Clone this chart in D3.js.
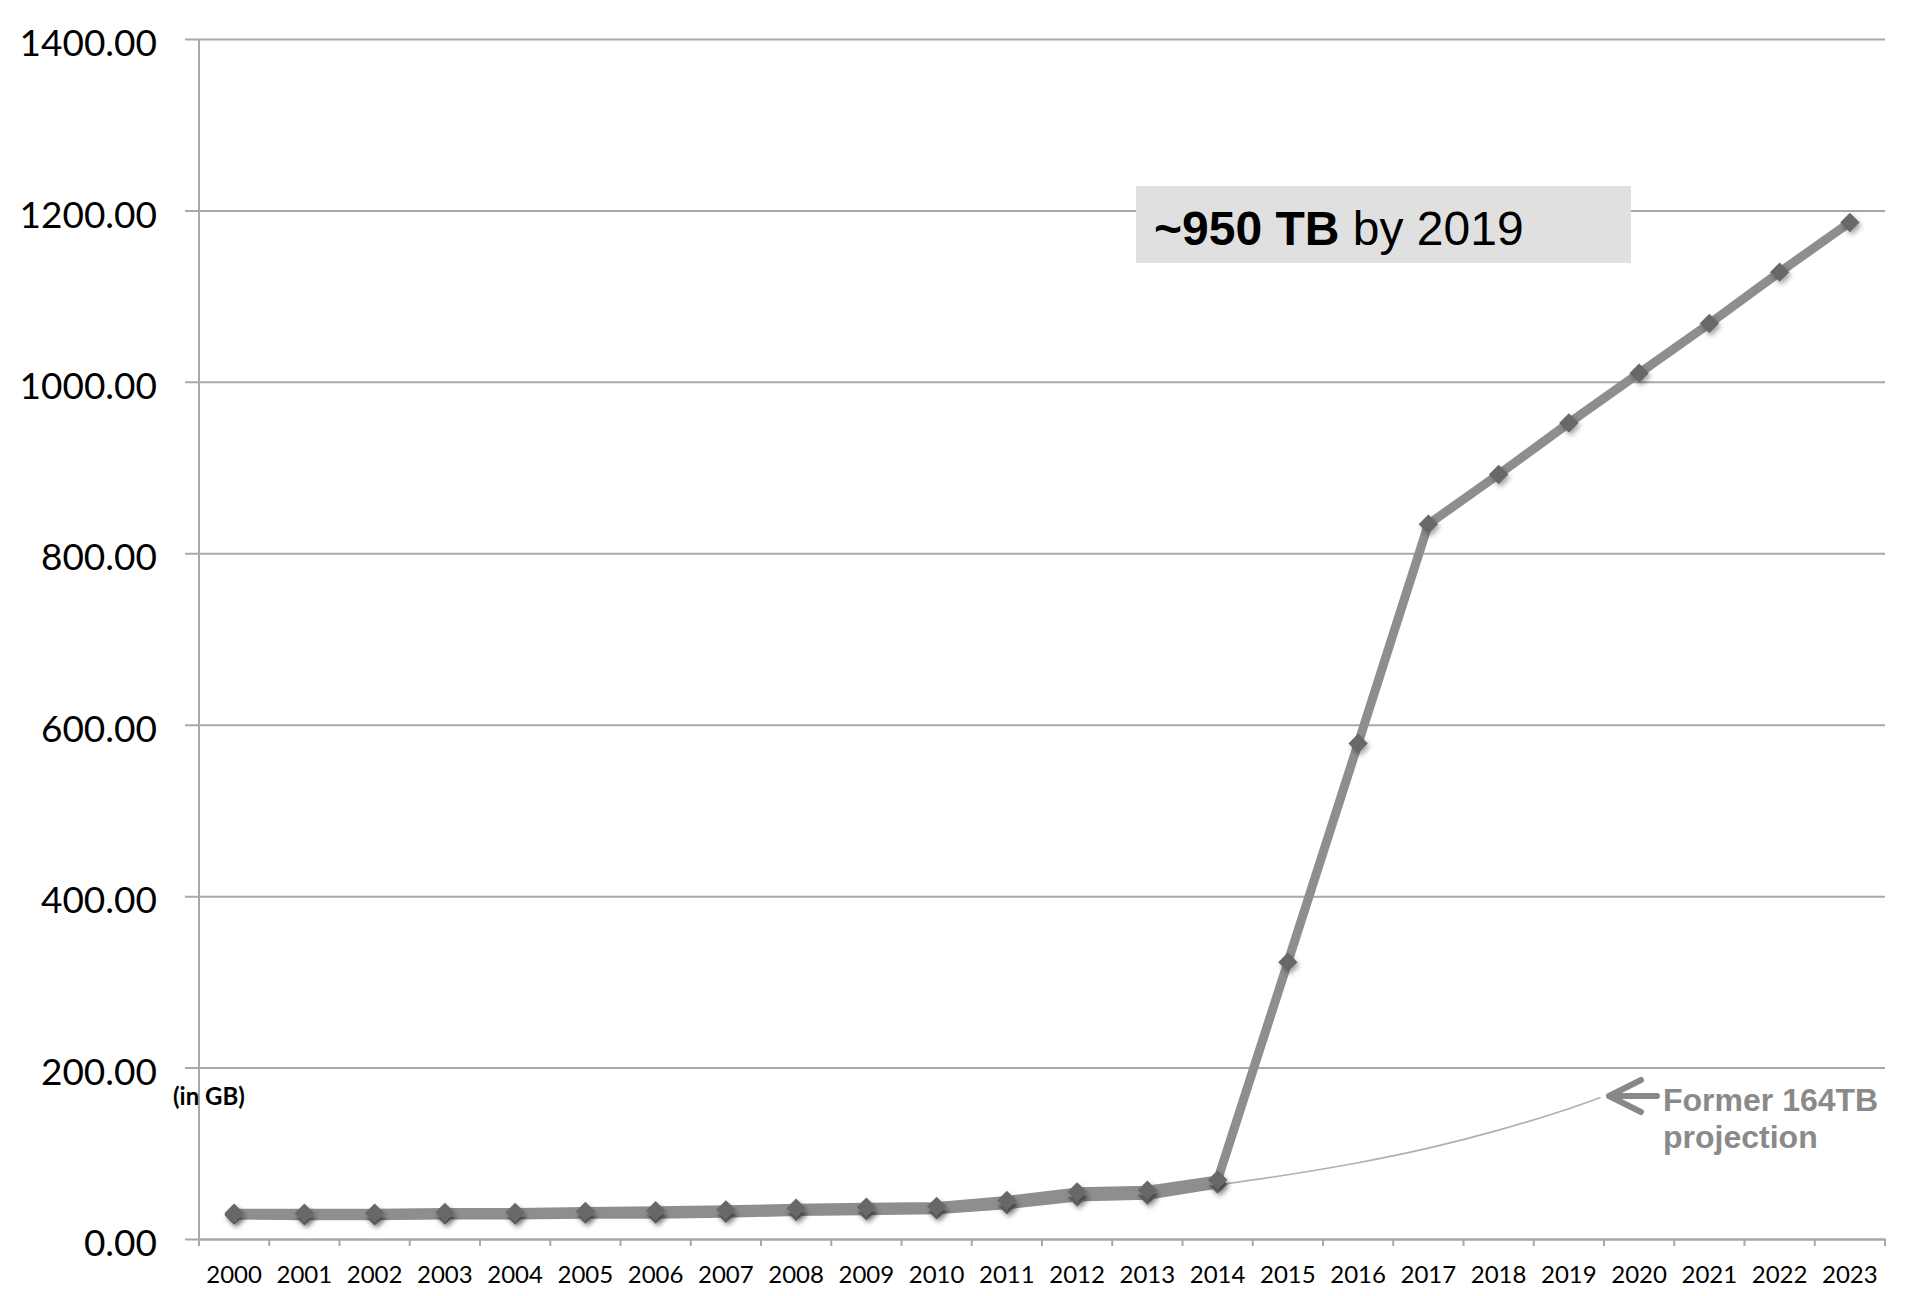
<!DOCTYPE html>
<html>
<head>
<meta charset="utf-8">
<script src="https://cdn.jsdelivr.net/npm/d3@7"></script>
<style>
  body { margin: 0; background: #fff; }
  text { font-family: Lato, "Open Sans", sans-serif; }
</style>
</head>
<body>
<div id="chart"></div>
<script>
// years on the x axis
var years = [2000, 2001, 2002, 2003, 2004, 2005, 2006, 2007, 2008, 2009, 2010, 2011,
             2012, 2013, 2014, 2015, 2016, 2017, 2018, 2019, 2020, 2021, 2022, 2023];

// new projection (in GB)
var projected = [30, 30, 30, 31, 31, 32, 33, 34, 36, 37, 38, 45,
                 55, 57, 69, 323, 578, 834, 892, 952, 1010, 1068, 1128, 1186];

// older series that sits just under the new one
var oldYears = [2000, 2001, 2002, 2003, 2004, 2005, 2006, 2007, 2008, 2009, 2010, 2011, 2012, 2013, 2014];
var oldValues = [28, 27, 27, 28, 28, 29, 29, 30, 32, 33, 34, 40, 49, 51, 64];

// the former projection curve (trendline, forecast a little past 2019)
var trendYears = [2000, 2002, 2004, 2006, 2008, 2010, 2011, 2012, 2013, 2014, 2015, 2016, 2017, 2018, 2019, 2019.45];
var trendValues = [27, 27.5, 28.5, 30, 32, 35, 40, 46, 52, 63, 75, 89, 106, 127, 152, 165];

var yTicks = [0, 200, 400, 600, 800, 1000, 1200, 1400];

var width = 1917, height = 1296;
var margin = { top: 39, right: 32, bottom: 57, left: 199 };

var svg = d3.select("#chart").append("svg")
    .attr("width", width)
    .attr("height", height);

var defs = svg.append("defs");
defs.append("filter")
    .attr("id", "shadow")
    .attr("x", "-50%").attr("y", "-50%")
    .attr("width", "200%").attr("height", "200%")
  .append("feDropShadow")
    .attr("dx", 2)
    .attr("dy", 3)
    .attr("stdDeviation", 2.5)
    .attr("flood-color", "#000")
    .attr("flood-opacity", 0.35);

var x = d3.scaleBand()
    .domain(years)
    .range([margin.left, width - margin.right]);

// continuous version of x for points (year -> band center)
var xc = d3.scaleLinear()
    .domain([years[0], years[years.length - 1]])
    .range([x(years[0]) + x.bandwidth() / 2, x(years[years.length - 1]) + x.bandwidth() / 2]);

var y = d3.scaleLinear()
    .domain([0, 1400])
    .range([height - margin.bottom, margin.top]);

// gridlines + y labels
var gy = svg.append("g")
    .attr("transform", "translate(" + margin.left + ",0)")
    .call(d3.axisLeft(y)
      .tickValues(yTicks)
      .tickSize(14)
      .tickFormat(d3.format(".2f")));
gy.select(".domain").remove();
gy.selectAll(".tick line")
    .attr("x2", width - margin.right - margin.left)
    .attr("x1", -14)
    .attr("stroke", "#a8a8a8")
    .attr("stroke-width", 2);
gy.selectAll(".tick text")
    .attr("x", -42)
    .attr("dy", "0.45em")
    .attr("fill", "#000")
    .attr("font-size", "37px")
    .style("font-family", "Lato, sans-serif");

// y axis line
svg.append("line")
    .attr("x1", margin.left).attr("x2", margin.left)
    .attr("y1", y(1400)).attr("y2", y(0))
    .attr("stroke", "#a8a8a8")
    .attr("stroke-width", 2);

// x axis
var gx = svg.append("g")
    .attr("transform", "translate(0," + y(0) + ")")
    .call(d3.axisBottom(x).tickSize(0).tickSizeOuter(0));
gx.select(".domain")
    .attr("stroke", "#a8a8a8")
    .attr("stroke-width", 2);
gx.selectAll(".tick text")
    .attr("y", 0)
    .attr("dy", "44px")
    .attr("fill", "#000")
    .attr("font-size", "24px")
    .style("font-family", "Lato, sans-serif");

// tick marks between the categories
var bounds = years.map(function(d) { return x(d); }).concat([width - margin.right]);
gx.selectAll("line.sep")
    .data(bounds)
    .enter().append("line")
    .attr("class", "sep")
    .attr("x1", function(d) { return d; })
    .attr("x2", function(d) { return d; })
    .attr("y1", 0)
    .attr("y2", 7)
    .attr("stroke", "#a8a8a8")
    .attr("stroke-width", 2);

// former projection, thin curve
var trendLine = d3.line()
    .x(function(d, i) { return xc(trendYears[i]); })
    .y(function(d) { return y(d); })
    .curve(d3.curveCatmullRom);
svg.append("path")
    .datum(trendValues)
    .attr("d", trendLine)
    .attr("fill", "none")
    .attr("stroke", "#b0b0b0")
    .attr("stroke-width", 1.6);

var line = d3.line()
    .x(function(d) { return xc(d.year); })
    .y(function(d) { return y(d.value); });

var diamond = d3.symbol().type(d3.symbolDiamond2).size(240);

function drawSeries(yrs, vals, stroke) {
  var pts = yrs.map(function(d, i) { return { year: d, value: vals[i] }; });
  svg.append("path")
      .datum(pts)
      .attr("d", line)
      .attr("fill", "none")
      .attr("stroke", stroke)
      .attr("stroke-width", 9)
      .attr("stroke-linejoin", "round");
  svg.append("g")
    .selectAll("path")
    .data(pts)
    .enter().append("path")
      .attr("d", diamond)
      .attr("transform", function(d) { return "translate(" + xc(d.year) + "," + y(d.value) + ")"; })
      .attr("fill", "#676767")
      .attr("filter", "url(#shadow)");
}

drawSeries(oldYears, oldValues, "#8e8e8e");
drawSeries(years, projected, "#8e8e8e");

// "(in GB)"
svg.append("text")
    .attr("x", 173)
    .attr("y", 1105)
    .attr("font-size", "24px")
    .attr("font-weight", "bold")
    .attr("fill", "#000")
    .text("(in GB)");

// callout box
svg.append("rect")
    .attr("x", 1136)
    .attr("y", 186)
    .attr("width", 495)
    .attr("height", 77)
    .attr("fill", "#e0e0e0");
var callout = svg.append("text")
    .attr("x", 1154)
    .attr("y", 245)
    .attr("font-size", "48px")
    .style("font-family", "'Liberation Sans', Arial, sans-serif")
    .attr("fill", "#000");
callout.append("tspan").attr("font-weight", "bold").text("~950 TB");
callout.append("tspan").text(" by 2019");

// arrow + note for the old projection
svg.append("path")
    .attr("d", "M1657,1096 L1609,1096 M1641,1080 L1609,1096 L1641,1112")
    .attr("fill", "none")
    .attr("stroke", "#888")
    .attr("stroke-width", 6)
    .attr("stroke-linecap", "round")
    .attr("stroke-linejoin", "round");

var note = svg.append("text")
    .attr("x", 1663)
    .attr("font-size", "32px")
    .attr("font-weight", "bold")
    .style("font-family", "'Liberation Sans', Arial, sans-serif")
    .attr("fill", "#8a8a8a");
note.append("tspan").attr("x", 1663).attr("y", 1111).text("Former 164TB");
note.append("tspan").attr("x", 1663).attr("y", 1148).text("projection");
</script>
</body>
</html>
